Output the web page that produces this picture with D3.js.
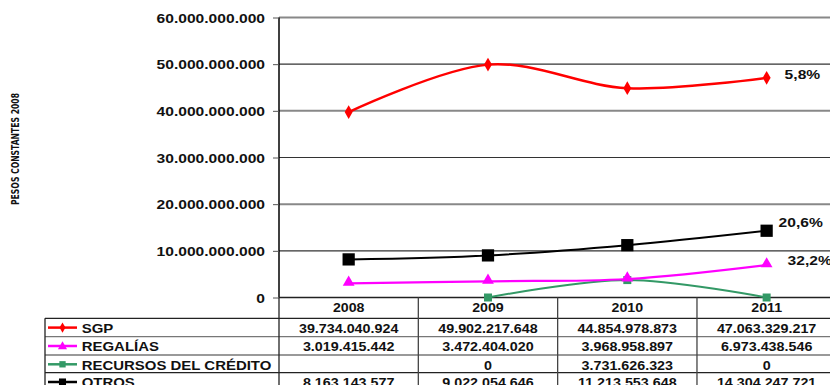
<!DOCTYPE html>
<html><head><meta charset="utf-8">
<script src="https://cdn.jsdelivr.net/npm/d3@7/dist/d3.min.js"></script>
<style>
html,body{margin:0;padding:0;background:#fff;overflow:hidden}
text{font-family:"Liberation Sans",Arial,sans-serif;font-weight:bold;fill:#111}
</style></head>
<body>
<svg id="c" width="830" height="385"></svg>
<script>
const years = ["2008", "2009", "2010", "2011"];
const seriesNames = ["SGP", "REGALÍAS", "RECURSOS DEL CRÉDITO", "OTROS"];
const sgp = [39734040924, 49902217648, 44854978873, 47063329217];
const regalias = [3019415442, 3472404020, 3968958897, 6973438546];
const recursos = [null, 0, 3731626323, 0];
const otros = [8163143577, 9022054646, 11213553648, 14304247721];
const growthLabels = ["5,8%", "32,2%", null, "20,6%"];
const yTicks = [0, 10000000000, 20000000000, 30000000000, 40000000000, 50000000000, 60000000000];
const yTitle = "PESOS CONSTANTES 2008";

const allSeries = [sgp, regalias, recursos, otros];
const colors = ["#ff0000", "#ff00ff", "#339966", "#000000"];
const symbols = [d3.symbolDiamond, d3.symbolTriangle, d3.symbolSquare, d3.symbolSquare];
const symSizes = [55, 60, 64, 150];
const lineW = [2.5, 2.2, 2, 2];
const labelOff = [[18, 1], [21, 0], null, [12, -4]];

const loc = d3.formatLocale({decimal: ",", thousands: ".", grouping: [3], currency: ["$", ""]});
const fmt = loc.format(",d");

const svg = d3.select("#c");
const pLeft = 279, pRight = 836.3, pTop = 17.5, pBottom = 297.5;
const x = d3.scaleBand().domain(years).range([pLeft, pRight]);
const y = d3.scaleLinear().domain([0, 60000000000]).range([pBottom, pTop]);

function stretch(sel, k) {
  sel.each(function () {
    const w = this.getComputedTextLength();
    d3.select(this).attr("textLength", w * k).attr("lengthAdjust", "spacingAndGlyphs");
  });
}

// gridlines
svg.append("g").selectAll("line").data(yTicks.filter(t => t > 0)).join("line")
  .attr("x1", pLeft).attr("x2", 830)
  .attr("y1", d => y(d)).attr("y2", d => y(d))
  .attr("stroke", (d, i) => (i % 2 === 0 ? "#333" : "#888"))
  .attr("stroke-width", (d, i) => (i % 2 === 0 ? 1.2 : 2));

// y axis
const yAxis = svg.append("g").attr("transform", `translate(${pLeft},0)`)
  .call(d3.axisLeft(y).tickValues(yTicks).tickFormat(fmt).tickSize(6).tickPadding(8));
yAxis.select(".domain").attr("stroke", "#000").attr("stroke-width", 1.5).attr("d", `M-0,${pTop}V${pBottom}`);
yAxis.selectAll(".tick line").attr("stroke", "#555");
yAxis.selectAll(".tick text").attr("font-size", 13).attr("font-family", null).attr("fill", "#111").attr("dy", "0.36em").call(stretch, 1.2);

// y title
svg.append("text").attr("transform", `translate(19,149) rotate(-90)`)
  .attr("text-anchor", "middle").attr("font-size", 10)
  .style("font-family", "'Liberation Sans Narrow','DejaVu Sans Condensed',Arial,sans-serif")
  .text(yTitle).attr("textLength", 112).attr("lengthAdjust", "spacingAndGlyphs");

// table
const rowTops = [318.3, 336.7, 355, 372.7, 391];
const tbl = svg.append("g");
tbl.append("line").attr("x1", pLeft).attr("x2", 830).attr("y1", pBottom).attr("y2", pBottom).attr("stroke", "#222").attr("stroke-width", 1.5);
rowTops.slice(0, 4).forEach((ry, i) => {
  tbl.append("line").attr("x1", 45).attr("x2", 830).attr("y1", ry).attr("y2", ry)
    .attr("stroke", i === 0 || i === 3 ? "#222" : "#777").attr("stroke-width", 1.3);
});
tbl.append("line").attr("x1", 45).attr("x2", 45).attr("y1", rowTops[0]).attr("y2", 385).attr("stroke", "#222").attr("stroke-width", 1.3);
years.forEach(yr => {
  tbl.append("line").attr("x1", x(yr) + x.bandwidth()).attr("x2", x(yr) + x.bandwidth())
    .attr("y1", pBottom).attr("y2", 385).attr("stroke", "#444").attr("stroke-width", 1.3);
});
tbl.append("line").attr("x1", pLeft).attr("x2", pLeft).attr("y1", pBottom).attr("y2", 385).attr("stroke", "#222").attr("stroke-width", 1.3);

tbl.selectAll("text.yr").data(years).join("text").attr("class", "yr")
  .attr("x", d => x(d) + x.bandwidth() / 2).attr("y", pBottom + 14.5)
  .attr("text-anchor", "middle").attr("font-size", 13).text(d => d).call(stretch, 1.09);

allSeries.forEach((vals, si) => {
  const base = rowTops[si] + 14.5;
  vals.forEach((v, i) => {
    if (v == null) return;
    tbl.append("text").attr("x", x(years[i]) + x.bandwidth() / 2).attr("y", base)
      .attr("text-anchor", "middle").attr("font-size", 13).text(fmt(v)).call(stretch, 1.1);
  });
  const ly = rowTops[si] + 9.3;
  tbl.append("line").attr("x1", 48).attr("x2", 77).attr("y1", ly).attr("y2", ly)
    .attr("stroke", colors[si]).attr("stroke-width", 2.5);
  tbl.append("path").attr("d", d3.symbol(symbols[si], [30, 36, 40, 50][si])())
    .attr("transform", `translate(62.5,${ly + (si === 1 ? 0.5 : 0)})`).attr("fill", colors[si]);
  tbl.append("text").attr("x", 81.7).attr("y", base).attr("font-size", 13)
    .text(seriesNames[si]).call(stretch, 1.15);
});

const line = d3.line()
  .defined(d => d.v != null)
  .x(d => x(d.k) + x.bandwidth() / 2)
  .y(d => y(d.v))
  .curve(d3.curveCatmullRom.alpha(0));

const plot = svg.append("g");
[2, 1, 3, 0].forEach(si => {
  const pts = years.map((k, i) => ({k, v: allSeries[si][i]}));
  plot.append("path").datum(pts).attr("d", line).attr("fill", "none")
    .attr("stroke", colors[si]).attr("stroke-width", lineW[si]);
  plot.selectAll(null).data(pts.filter(d => d.v != null)).join("path")
    .attr("d", d3.symbol(symbols[si], symSizes[si])())
    .attr("transform", d => `translate(${x(d.k) + x.bandwidth() / 2},${y(d.v) + (si === 1 ? -1 : 0)})`)
    .attr("fill", colors[si]);
  if (growthLabels[si]) {
    const last = pts[pts.length - 1];
    plot.append("text")
      .attr("x", x(last.k) + x.bandwidth() / 2 + labelOff[si][0])
      .attr("y", y(last.v) + labelOff[si][1])
      .attr("font-size", 13).text(growthLabels[si]).call(stretch, 1.2);
  }
});
</script>
</body></html>
